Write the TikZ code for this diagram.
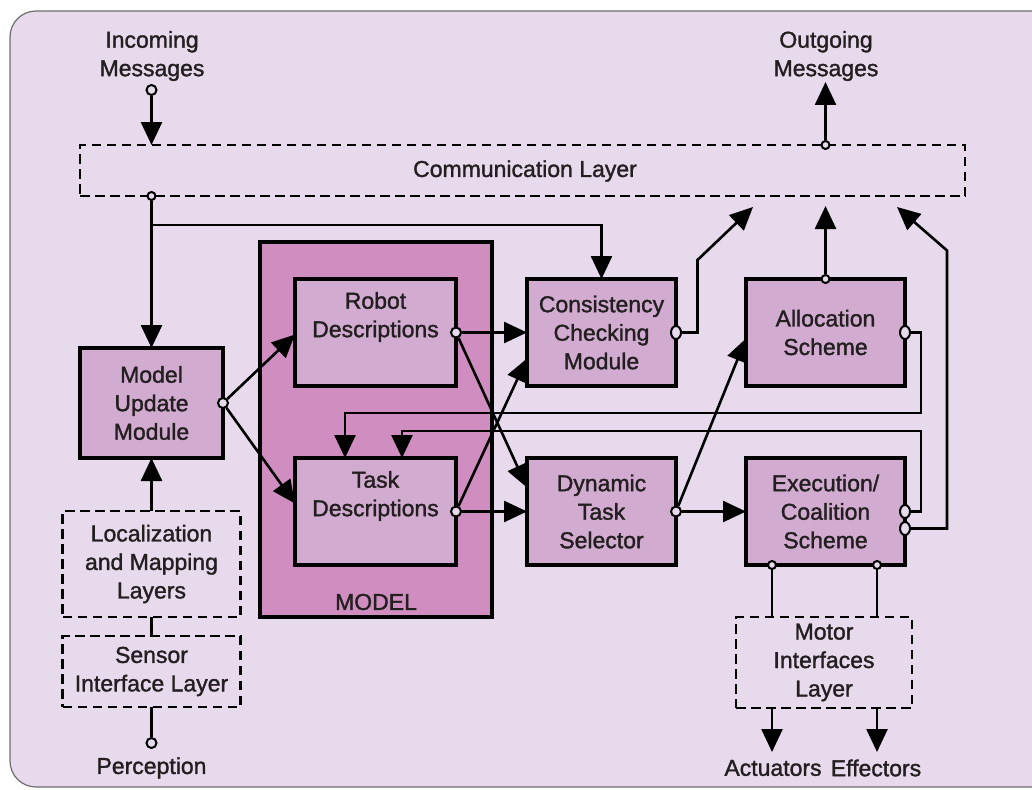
\documentclass[tikz,border=0pt]{standalone}
\usepackage{fontspec}
\setmainfont{Liberation Sans}[FakeBold=1.4]
\usetikzlibrary{arrows.meta,calc,shapes.geometric}
\definecolor{bgc}{RGB}{230,218,236}
\definecolor{modc}{RGB}{209,172,208}
\definecolor{bigc}{RGB}{208,142,192}
\definecolor{txt}{RGB}{35,31,32}
\definecolor{frame}{RGB}{110,110,110}
\begin{document}
\begin{tikzpicture}[x=1pt,y=-1pt,
  font=\fontsize{23}{28.5}\selectfont,
  every node/.style={text=txt},
  modbox/.style={draw=black, line width=4.5pt, fill=modc, align=center, inner sep=0pt, outer sep=0pt},
  bigbox/.style={draw=black, line width=4.5pt, fill=bigc, inner sep=0pt, outer sep=0pt},
  laybox/.style={draw=black, dash pattern=on 9.5pt off 5.5pt, line width=2.8pt, align=center, inner sep=0pt, outer sep=0pt},
  lbl/.style={align=center, inner sep=0pt},
  conn/.style={draw=black, line width=2.6pt, -{Triangle[length=23pt,width=21pt]}},
  wire/.style={draw=black, line width=2.6pt},
  dot/.style={circle, draw=black, line width=2pt, fill=bgc, inner sep=0pt, minimum size=10pt},
  bigdot/.style={ellipse, draw=black, line width=2pt, fill=bgc, inner sep=0pt, minimum width=10pt, minimum height=13pt}
]
\clip (0,0) rectangle (1032,789);
\fill[white] (0,0) rectangle (1032,789);
\draw[draw=frame, fill=bgc, line width=1.2pt, rounded corners=26pt] (10,11) rectangle (1070,787);

% layers
\node[laybox, minimum width=885pt, minimum height=51pt] (comm) at (522.5,170.5) {};
\node[lbl] (commt) at (525,171) {Communication Layer};
\node[laybox, minimum width=178pt, minimum height=106pt] (loc) at (151.5,564) {Localization\\and Mapping\\Layers};
\node[laybox, minimum width=178pt, minimum height=71pt] (sensor) at (151.5,671.5) {Sensor\\Interface Layer};
\node[laybox, minimum width=176pt, minimum height=91pt] (motor) at (824,662.5) {Motor\\Interfaces\\Layer};

% model
\node[bigbox, minimum width=232pt, minimum height=375pt] (model) at (376,429.5) {};
\node[lbl] (modelt) at (376,602) {MODEL};
\node[modbox, minimum width=161pt, minimum height=107pt] (robot) at (375.5,332.5) {};
\node[lbl] (robott) at (375.5,317) {Robot\\Descriptions};
\node[modbox, minimum width=161pt, minimum height=107pt] (task) at (375.5,511.5) {};
\node[lbl] (taskt) at (375.5,496) {Task\\Descriptions};

% modules
\node[modbox, minimum width=143pt, minimum height=110pt] (mum) at (151.5,403) {Model\\Update\\Module};
\node[modbox, minimum width=149pt, minimum height=107pt] (ccm) at (601.5,332.5) {Consistency\\Checking\\Module};
\node[modbox, minimum width=159pt, minimum height=107pt] (alloc) at (825.5,332.5) {Allocation\\Scheme};
\node[modbox, minimum width=149pt, minimum height=107pt] (dts) at (601.5,511.5) {Dynamic\\Task\\Selector};
\node[modbox, minimum width=159pt, minimum height=107pt] (exec) at (825.5,511.5) {Execution/\\Coalition\\Scheme};

% outer labels
\node[lbl] (inc) at (152,56) {Incoming\\Messages};
\node[lbl] (outg) at (826,56) {Outgoing\\Messages};
\node[lbl] (perc) at (151.5,768) {Perception};
\node[lbl] (act) at (773,768) {Actuators};
\node[lbl] (eff) at (876,768) {Effectors};

% free ends
\coordinate (otip) at (825.5,82);
\coordinate (ctip) at (753,207);
\coordinate (atip) at (825.5,206);
\coordinate (etip) at (897,207);
\coordinate (acttip) at (772,752);
\coordinate (efftip) at (877,752);

% dots
\node[dot] (id) at (151.5,90) {};
\node[dot, minimum size=8pt] (cb) at (comm.south -| mum.north) {};
\node[dot, minimum size=8pt] (od) at (comm.north -| alloc.north) {};
\node[dot] (mu) at (mum.east) {};
\node[dot] (rd) at (robot.east) {};
\node[dot] (td) at (task.east) {};
\node[bigdot] (cd) at (ccm.east) {};
\node[dot, minimum size=8pt] (at) at (alloc.north) {};
\node[bigdot] (ad) at (alloc.east) {};
\node[dot] (dd) at (dts.east) {};
\node[bigdot] (ed1) at (exec.east) {};
\node[bigdot] (ed2) at ($(exec.east)+(0,17)$) {};
\node[dot, minimum size=8pt] (eb1) at ($(exec.south)+(-53.5,0)$) {};
\node[dot, minimum size=8pt] (eb2) at ($(exec.south)+(51.5,0)$) {};
\node[dot] (pd) at (151.5,743) {};

% connectors
\draw[conn] (id) -- (id |- comm.north);
\draw[conn] (od) -- (otip);
\draw[conn] (cb) -- (mum.north);
\draw[conn] ($(cb)+(0,29)$) -| (ccm.north);
\draw[conn] (loc.north) -- (mum.south);
\draw[wire] (loc.south) -- (sensor.north);
\draw[wire] (sensor.south) -- (pd);

\draw[conn] (mu) -- ($(robot.west)+(0,2)$);
\draw[conn] (mu) -- ($(task.west)+(0,-8)$);
\draw[conn] (rd) -- (ccm.west);
\draw[conn] (rd) -- ($(dts.west)+(0,-24)$);
\draw[conn] (td) -- (dts.west);
\draw[conn] (td) -- ($(ccm.west)+(0,26)$);
\draw[conn] (dd) -- (exec.west);
\draw[conn] (dd) -- ($(alloc.west)+(0,6)$);

\draw[conn] (cd) -- ++(21.5,0) -- ++(0,-72.5) -- (ctip);
\draw[conn] (at) -- (atip);
\draw[conn] (ed2) -| ($(ed2)+(42,-278)$) -- (etip);
\draw[conn] (ad) -| ($(ad)+(16,80.5)$) -| ($(task.north)+(-30.5,0)$);
\draw[conn] (ed1) -| ($(ed1)+(16,-80.5)$) -| ($(task.north)+(26.5,0)$);

\draw[wire] (eb1) -- (eb1 |- motor.north);
\draw[wire] (eb2) -- (eb2 |- motor.north);
\draw[conn] (motor.south -| acttip) -- (acttip);
\draw[conn] (motor.south -| efftip) -- (efftip);
\end{tikzpicture}
\end{document}
